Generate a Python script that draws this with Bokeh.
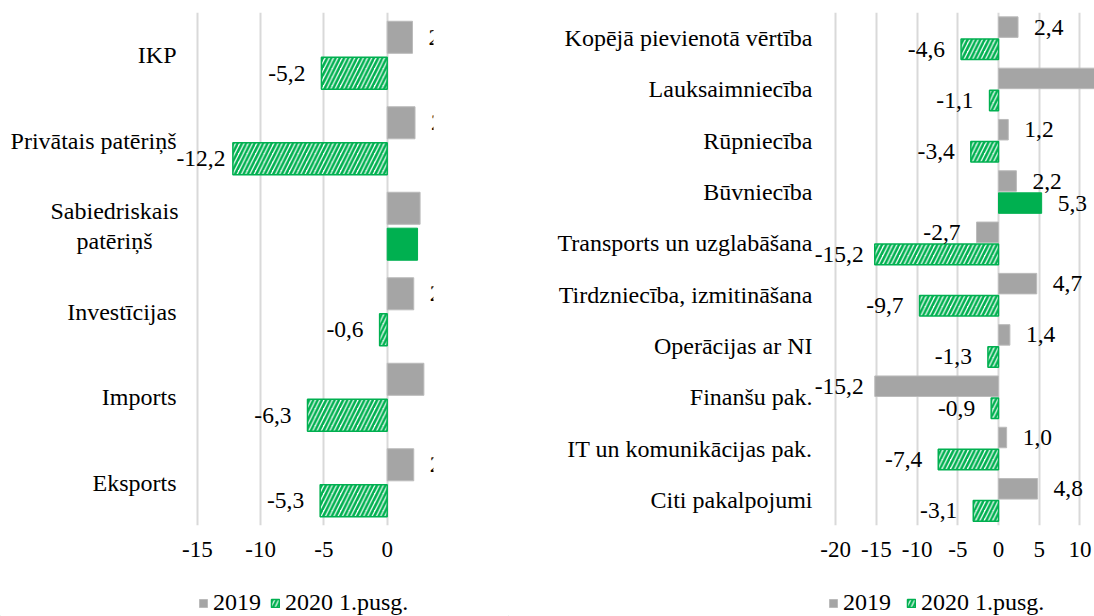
from bokeh.plotting import figure
from bokeh.models import (FactorRange, Range1d, ColumnDataSource, Legend,
                          LegendItem, FixedTicker)
from bokeh.transform import dodge
from bokeh.layouts import row, column
from bokeh.embed import file_html
from bokeh.resources import INLINE
from bokeh.core.properties import value

# ---------------- data ----------------
left_categories = ["IKP", "Privātais patēriņš", "Sabiedriskais\npatēriņš",
                   "Investīcijas", "Imports", "Eksports"]
left_2019 = [2.0, 2.2, 2.6, 2.1, 2.9, 2.1]
left_2020 = [-5.2, -12.2, 2.4, -0.6, -6.3, -5.3]
left_ticks = [-15, -10, -5, 0]

right_categories = ["Kopējā pievienotā vērtība", "Lauksaimniecība", "Rūpniecība",
                    "Būvniecība", "Transports un uzglabāšana",
                    "Tirdzniecība, izmitināšana", "Operācijas ar NI",
                    "Finanšu pak.", "IT un komunikācijas pak.", "Citi pakalpojumi"]
right_2019 = [2.4, 14.0, 1.2, 2.2, -2.7, 4.7, 1.4, -15.2, 1.0, 4.8]
right_2020 = [-4.6, -1.1, -3.4, 5.3, -15.2, -9.7, -1.3, -0.9, -7.4, -3.1]
right_ticks = [-20, -15, -10, -5, 0, 5, 10]

series_names = ["2019", "2020 1.pusg."]

# ---------------- style ----------------
FONT = "Liberation Serif"
CAT_FS = "24px"
LBL_FS = "23.5px"
TICK_FS = "23px"
GRAY = "#A5A5A5"
GREEN = "#00B050"
GRID = "#D9D9D9"
MAIN_H = 575
LEG_H = 41

GRAY_STYLE = dict(fill_color=GRAY, line_color="#BBBBBB", line_width=1)
SOLID_STYLE = dict(fill_color=GREEN, line_color=GREEN, line_width=1)
HATCH_STYLE = dict(fill_color="white", line_color=GREEN, line_width=1.5,
                   hatch_pattern="/", hatch_color=GREEN, hatch_weight=2.6,
                   hatch_scale=8.5)


def fmt(v):
    return f"{v:.1f}".replace(".", ",")


def build(cats, v19, v20, ticks, width, zero_px, scale, frame_right, cat_right,
          bar_h, off):
    """zero_px / frame_right / cat_right are pixel positions inside the figure."""
    xr = (-zero_px / scale, (frame_right - zero_px) / scale)
    p = figure(width=width, height=MAIN_H, output_backend="svg", toolbar_location=None,
               y_range=FactorRange(factors=cats[::-1]), x_range=Range1d(*xr),
               min_border_left=0, min_border_right=width - frame_right,
               min_border_top=12, min_border_bottom=50)
    p.outline_line_color = None
    p.background_fill_color = "white"
    p.border_fill_color = "white"

    p.ygrid.grid_line_color = None
    p.xgrid.grid_line_color = GRID
    p.xgrid.grid_line_width = 2
    p.xaxis.ticker = FixedTicker(ticks=ticks)
    p.xaxis.major_label_overrides = {t: str(t) for t in ticks}
    p.yaxis.visible = False

    ax = p.xaxis[0]
    ax.axis_line_color = None
    ax.major_tick_line_color = None
    ax.minor_tick_line_color = None
    ax.major_tick_out = 0
    ax.major_tick_in = 0
    ax.major_label_text_font = FONT
    ax.major_label_text_font_size = TICK_FS
    ax.major_label_text_color = "black"
    ax.major_label_standoff = 16

    # category labels (drawn as text so the data labels may overlap their area)
    single = [c for c in cats if "\n" not in c]
    multi = [c for c in cats if "\n" in c]
    p.text(x=[xr[0]] * len(single), y=single, text=single, x_offset=cat_right,
           text_align="right", text_baseline="middle", text_font=value(FONT),
           text_font_size=CAT_FS, text_color="black")
    if multi:
        p.text(x=[xr[0]] * len(multi), y=multi, text=multi, x_offset=cat_right - 62,
               text_align="center", text_baseline="middle", text_font=value(FONT),
               text_font_size=CAT_FS, text_color="black", text_line_height=1.17)

    y_up = dodge("cat", off, range=p.y_range)
    y_dn = dodge("cat", -off, range=p.y_range)

    # bars
    s19 = ColumnDataSource(dict(cat=cats, v=v19))
    p.hbar(y=y_up, left=0, right="v", height=bar_h, source=s19, **GRAY_STYLE)

    pos20 = [(c, v) for c, v in zip(cats, v20) if v >= 0]
    neg20 = [(c, v) for c, v in zip(cats, v20) if v < 0]
    sp = ColumnDataSource(dict(cat=[c for c, _ in pos20], v=[v for _, v in pos20]))
    sn = ColumnDataSource(dict(cat=[c for c, _ in neg20], v=[v for _, v in neg20]))
    p.hbar(y=y_dn, left=0, right="v", height=bar_h, source=sp, **SOLID_STYLE)
    p.hbar(y=y_dn, left=0, right="v", height=bar_h, source=sn, **HATCH_STYLE)

    # data labels
    tmin = min(ticks)

    def offsets(vals):
        res = []
        for v in vals:
            if v >= 0:
                res.append(16)
            else:
                dist = (v - tmin) * scale
                res.append(-16 if dist - 16 >= 28 else 28 - dist)
        return res

    def add_labels(vals, d):
        y = dodge("cat", d, range=p.y_range)
        for sign, align in ((1, "left"), (-1, "right")):
            group = [(c, v) for c, v in zip(cats, vals) if (v >= 0) == (sign > 0)]
            if not group:
                continue
            vs = [v for _, v in group]
            src = ColumnDataSource(dict(cat=[c for c, _ in group], v=vs,
                                        lbl=[fmt(v) for v in vs], xo=offsets(vs)))
            p.text(x="v", y=y, text="lbl", x_offset="xo", source=src,
                   text_align=align, text_baseline="middle",
                   text_font=value(FONT), text_font_size=LBL_FS, text_color="black")

    add_labels(v19, off)
    add_labels(v20, -off)
    return p


def legend_fig(width, x0, spacing):
    f = figure(width=width, height=LEG_H, output_backend="svg", toolbar_location=None,
               x_range=Range1d(0, width), y_range=Range1d(0, LEG_H),
               min_border=0)
    f.axis.visible = False
    f.grid.visible = False
    f.outline_line_color = None
    # proxy glyphs (placed far outside the visible ranges) that only feed the legend
    e = dict(y=[-5000], left=[-5000], right=[-4999], height=1)
    r1 = f.hbar(**e, **GRAY_STYLE)
    r2 = f.hbar(**e, **HATCH_STYLE)
    lg = Legend(items=[LegendItem(label=series_names[0], renderers=[r1]),
                       LegendItem(label=series_names[1], renderers=[r2])],
                location=(x0, 0), orientation="horizontal",
                glyph_width=10, glyph_height=10, label_standoff=5,
                spacing=spacing, padding=0, margin=0,
                border_line_color=None, background_fill_alpha=0,
                label_text_font=FONT, label_text_font_size=CAT_FS,
                label_text_color="black", label_height=20)
    f.add_layout(lg)
    return f


left = build(left_categories, left_2019, left_2020, left_ticks, 508,
             386.7, 12.65, 433, 176, 0.375, 0.21)
right = build(right_categories, right_2019, right_2020, right_ticks, 586,
              490, 8.14, 586, 304, 0.4, 0.215)

layout = column(row(left, right),
                row(legend_fig(508, 198, 9), legend_fig(586, 320, 15)))
open("out.html", "w").write(file_html(layout, INLINE))
